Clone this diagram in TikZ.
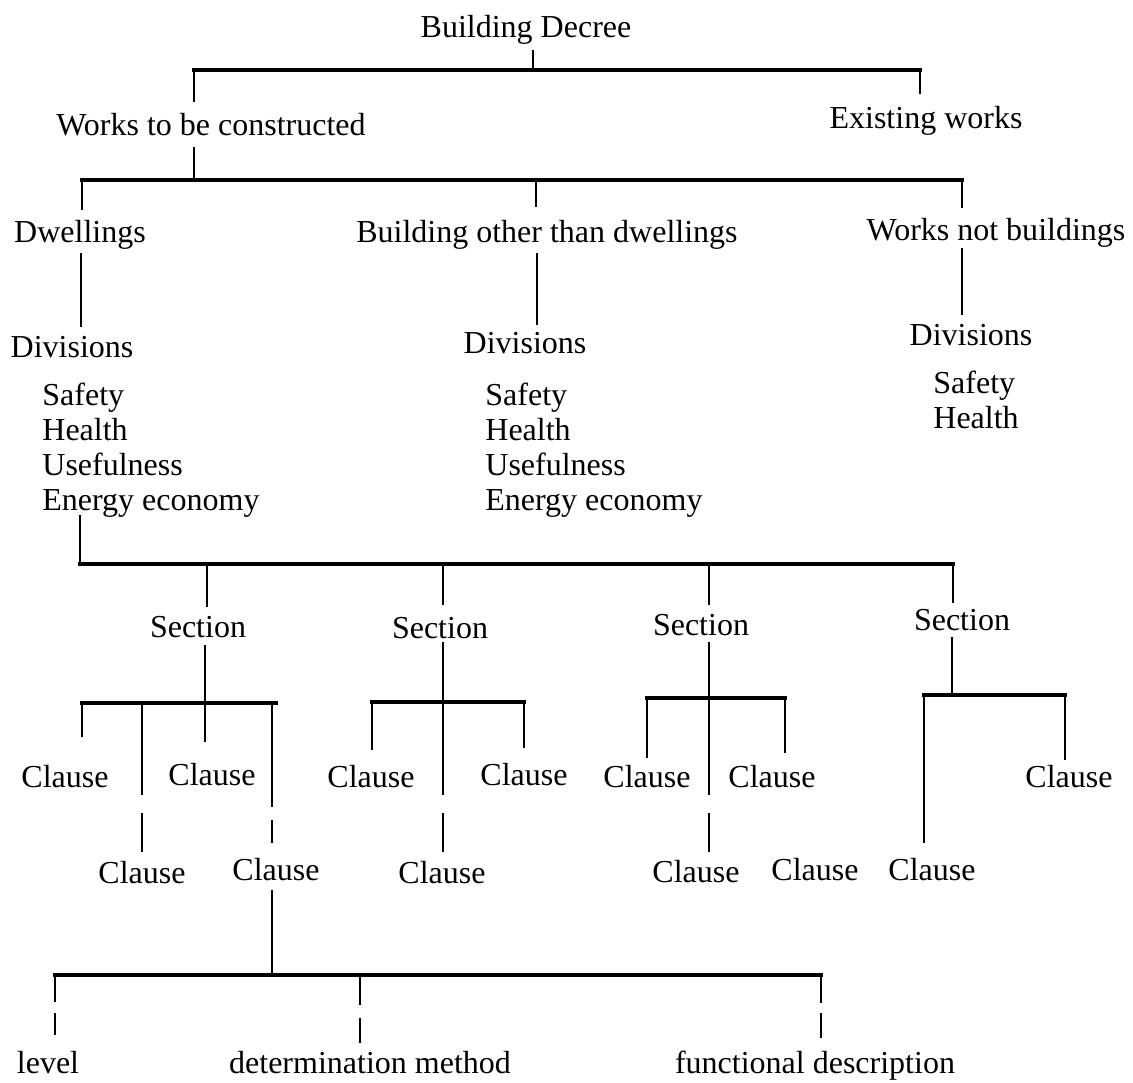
\documentclass[tikz,border=0pt]{standalone}
\usepackage{fontspec}
\setmainfont{Liberation Serif}
\begin{document}
\begin{tikzpicture}[x=0.5pt,y=-0.5pt,
  every node/.style={inner sep=0pt, font=\fontsize{16}{19}\selectfont},
  lbl/.style={anchor=base},
  lblw/.style={anchor=base west},
  link/.style={line width=1.3pt},
  bar/.style={line width=1.7pt, line cap=rect}]
\fill[white] (0,0) rectangle (1133,1082);
\useasboundingbox (0,0) rectangle (1133,1082);

% ---------- labels ----------
\node[lbl] (bd) at (526,37) {Building Decree};
\node[lbl] (wc) at (211,135) {Works to be constructed};
\node[lbl] (ew) at (926,128) {Existing works};
\node[lbl] (dw) at (80,242) {Dwellings};
\node[anchor=base east] (bo) at (738,242) {Building other than dwellings};
\node[lbl] (wn) at (996,240) {Works not buildings};
\node[lbl] (dv1) at (72,357) {Divisions};
\node[lbl] (dv2) at (525,353) {Divisions};
\node[lbl] (dv3) at (971,345) {Divisions};
\foreach \t [count=\i] in {Safety,Health,Usefulness,Energy economy}{
  \node[lblw] (la\i) at (42,370+35*\i) {\t};
  \node[lblw] (lb\i) at (485,370+35*\i) {\t};
}
\node[lblw] (lc1) at (933,393) {Safety};
\node[lblw] (lc2) at (933,428) {Health};

\node[lbl] (s1) at (198,637) {Section};
\node[lbl] (s2) at (440,638) {Section};
\node[lbl] (s3) at (701,635) {Section};
\node[lbl] (s4) at (962,630) {Section};

\node[lbl] (c1) at (65,787) {Clause};
\node[lbl] (c2) at (212,785) {Clause};
\node[lbl] (c3) at (142,883) {Clause};
\node[lbl] (c4) at (276,880) {Clause};
\node[lbl] (c5) at (371,787) {Clause};
\node[lbl] (c6) at (524,785) {Clause};
\node[lbl] (c7) at (442,883) {Clause};
\node[lbl] (c8) at (647,787) {Clause};
\node[lbl] (c9) at (772,787) {Clause};
\node[lbl] (c10) at (696,882) {Clause};
\node[lbl] (c11) at (815,880) {Clause};
\node[lbl] (c12) at (932,880) {Clause};
\node[lbl] (c13) at (1069,787) {Clause};

\node[lbl] (lv) at (48,1073) {level};
\node[lbl] (dm) at (370,1073) {determination method};
\node[lbl] (fd) at (815,1073) {functional description};

% ---------- line ends and junctions ----------
% Building Decree
\coordinate (bd-s) at (533,50);   \coordinate (j0) at (533,70);
\coordinate (j0l) at (194,70);    \coordinate (j0r) at (920,70);
\coordinate (wc-n) at (194,102);  \coordinate (ew-n) at (920,94);
% Works to be constructed
\coordinate (wc-s) at (194,147);  \coordinate (j1) at (194,180);
\coordinate (j1l) at (82,180);    \coordinate (j1m) at (536,180);
\coordinate (j1r) at (962,180);
\coordinate (dw-n) at (82,210);   \coordinate (bo-n) at (536,207);
\coordinate (wn-n) at (962,208);
% kinds of works to divisions
\coordinate (dw-s) at (81,253);   \coordinate (dv1-n) at (81,327);
\coordinate (bo-s) at (537,253);  \coordinate (dv2-n) at (537,325);
\coordinate (wn-s) at (962,248);  \coordinate (dv3-n) at (962,315);
% divisions to sections
\coordinate (la-s) at (80,515);   \coordinate (j2l) at (80,564);
\coordinate (j2r) at (953,564);
\coordinate (j2a) at (207,564);   \coordinate (s1-n) at (207,607);
\coordinate (j2b) at (443,564);   \coordinate (s2-n) at (443,605);
\coordinate (j2c) at (709,564);   \coordinate (s3-n) at (709,605);
\coordinate (j2d) at (953,564);   \coordinate (s4-n) at (953,603);
% section 1
\coordinate (s1-s) at (205,645);  \coordinate (k1) at (205,703);
\coordinate (k1l) at (82,703);    \coordinate (k1r) at (276,703);
\coordinate (k1a) at (142,703);   \coordinate (k1d) at (272,703);
\coordinate (c1-n) at (82,737);   \coordinate (c2-n) at (205,742);
\coordinate (c3-u) at (142,795);  \coordinate (c3-v) at (142,813);
\coordinate (c3-n) at (142,852);
\coordinate (c4-u) at (272,807);  \coordinate (c4-v) at (272,820);
\coordinate (c4-n) at (272,843);
% section 2
\coordinate (s2-s) at (443,642);  \coordinate (k2) at (443,702);
\coordinate (k2l) at (372,702);   \coordinate (k2r) at (524,702);
\coordinate (c5-n) at (372,750);  \coordinate (c6-n) at (524,748);
\coordinate (c7-u) at (443,795);  \coordinate (c7-v) at (443,813);
\coordinate (c7-n) at (443,852);
% section 3
\coordinate (s3-s) at (709,642);  \coordinate (k3) at (709,698);
\coordinate (k3l) at (647,698);   \coordinate (k3r) at (785,698);
\coordinate (c8-n) at (647,758);  \coordinate (c9-n) at (785,753);
\coordinate (c10-u) at (709,795); \coordinate (c10-v) at (709,813);
\coordinate (c10-n) at (709,852);
% section 4
\coordinate (s4-s) at (952,637);  \coordinate (k4) at (952,695);
\coordinate (k4l) at (924,695);   \coordinate (k4r) at (1065,695);
\coordinate (c12-n) at (924,843); \coordinate (c13-n) at (1065,760);
% clause to its parts
\coordinate (c4-s) at (272,890);  \coordinate (m) at (272,975);
\coordinate (ml) at (55,975);     \coordinate (mm) at (360,975);
\coordinate (mr) at (821,975);
\coordinate (lv-u) at (55,1002);  \coordinate (lv-v) at (55,1013);
\coordinate (lv-n) at (55,1035);
\coordinate (dm-u) at (360,1005); \coordinate (dm-v) at (360,1018);
\coordinate (dm-n) at (360,1043);
\coordinate (fd-u) at (821,1003); \coordinate (fd-v) at (821,1013);
\coordinate (fd-n) at (821,1038);

% ---------- connectors ----------
% top level
\draw[link] (bd-s) -- (j0);
\draw[link] (j0l) -- (wc-n);
\draw[link] (j0r) -- (ew-n);
\draw[bar] (j0l) -- (j0r);
% works to be constructed
\draw[link] (wc-s) -- (j1);
\draw[link] (j1l) -- (dw-n);
\draw[link] (j1m) -- (bo-n);
\draw[link] (j1r) -- (wn-n);
\draw[bar] (j1l) -- (j1r);
% to divisions
\draw[link] (dw-s) -- (dv1-n);
\draw[link] (bo-s) -- (dv2-n);
\draw[link] (wn-s) -- (dv3-n);
% to sections
\draw[link] (la-s) -- (j2l);
\draw[link] (j2a) -- (s1-n);
\draw[link] (j2b) -- (s2-n);
\draw[link] (j2c) -- (s3-n);
\draw[link] (j2d) -- (s4-n);
\draw[bar] (j2l) -- (j2r);
% section 1 clauses
\draw[link] (s1-s) -- (k1);
\draw[link] (k1l) -- (c1-n);
\draw[link] (k1) -- (c2-n);
\draw[link] (k1a) -- (c3-u);
\draw[link] (c3-v) -- (c3-n);
\draw[link] (k1d) -- (c4-u);
\draw[link] (c4-v) -- (c4-n);
\draw[bar] (k1l) -- (k1r);
% section 2 clauses
\draw[link] (s2-s) -- (c7-u);
\draw[link] (c7-v) -- (c7-n);
\draw[link] (k2l) -- (c5-n);
\draw[link] (k2r) -- (c6-n);
\draw[bar] (k2l) -- (k2r);
% section 3 clauses
\draw[link] (s3-s) -- (c10-u);
\draw[link] (c10-v) -- (c10-n);
\draw[link] (k3l) -- (c8-n);
\draw[link] (k3r) -- (c9-n);
\draw[bar] (k3l) -- (k3r);
% section 4 clauses
\draw[link] (s4-s) -- (k4);
\draw[link] (k4l) -- (c12-n);
\draw[link] (k4r) -- (c13-n);
\draw[bar] (k4l) -- (k4r);
% parts of a clause
\draw[link] (c4-s) -- (m);
\draw[link] (ml) -- (lv-u);
\draw[link] (lv-v) -- (lv-n);
\draw[link] (mm) -- (dm-u);
\draw[link] (dm-v) -- (dm-n);
\draw[link] (mr) -- (fd-u);
\draw[link] (fd-v) -- (fd-n);
\draw[bar] (ml) -- (mr);
\end{tikzpicture}
\end{document}
